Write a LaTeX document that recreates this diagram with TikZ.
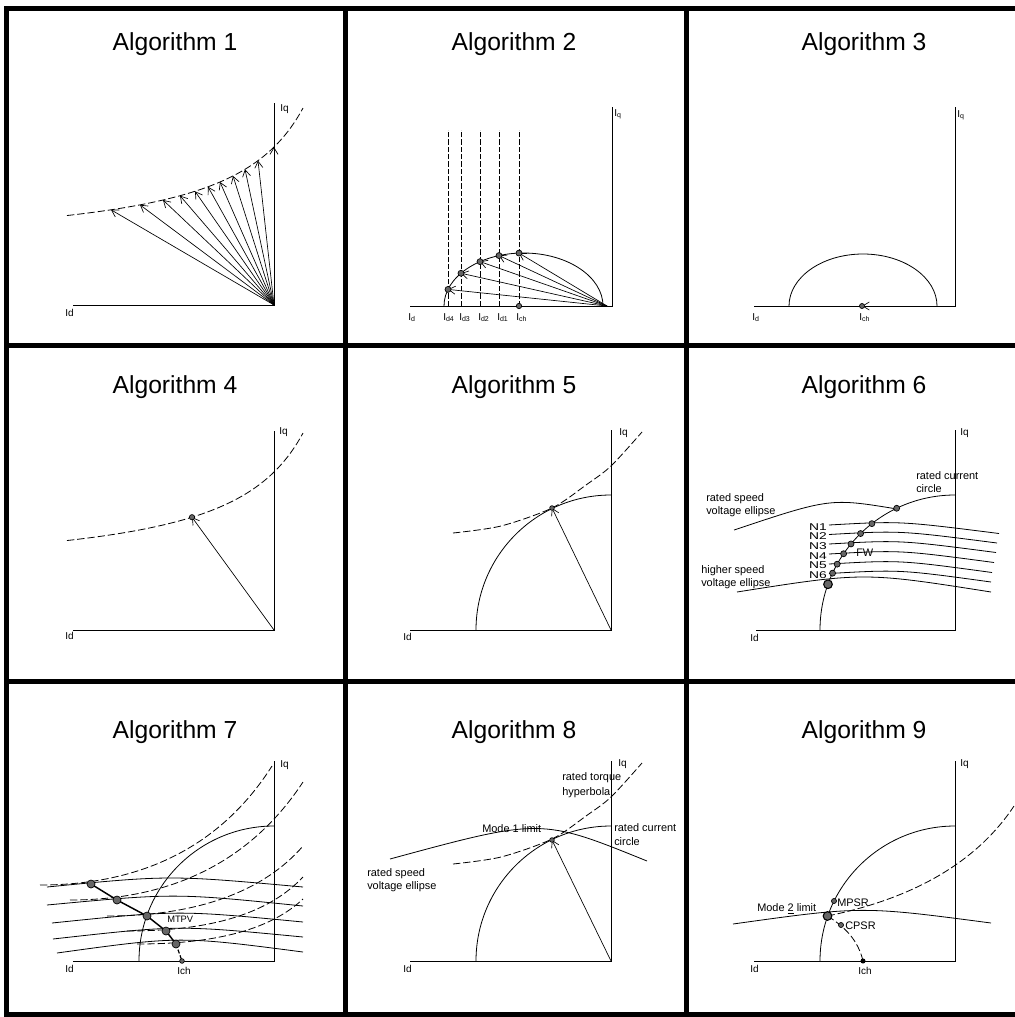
\documentclass[tikz,border=0pt]{standalone}
\usepackage{fontspec}
\setmainfont{Liberation Sans}
\usetikzlibrary{arrows.meta}
\begin{document}
\begin{tikzpicture}[x=0.75pt,y=-0.75pt,
 frameline/.style={line width=3.75pt, line cap=rect},
 ax/.style={line width=0.6pt},
 crv/.style={line width=0.6pt},
 dsh/.style={line width=0.6pt, dash pattern=on 5.5pt off 2.2pt},
 vdsh/.style={line width=0.5pt, dash pattern=on 4pt off 1.5pt},
 vec/.style={line width=0.5pt, -{Straight Barb[length=5pt,width=6pt]}},
 dotp/.style={circle, fill=black!60, draw=black, line width=0.5pt, inner sep=0pt, minimum size=4.5pt},
 bigdot/.style={dotp, minimum size=6.5pt, line width=0.8pt},
 ttl/.style={font=\fontsize{18.5}{20}\selectfont, anchor=base, inner sep=0pt},
 lbl/.style={font=\fontsize{8.2}{9}\selectfont, anchor=base west, inner sep=0pt},
 axl/.style={font=\fontsize{7.5}{8}\selectfont, anchor=base west, inner sep=0pt},
 nlbl/.style={font=\fontsize{7.4}{8}\selectfont, anchor=base east, inner sep=0pt},
]
\useasboundingbox (0,0) rectangle (1014,1017);
% ---------- frame ----------
\draw[frameline] (6,1014) -- (6,8.5) -- (1014,8.5);
\draw[frameline] (6,1014) -- (1014,1014);
\draw[frameline] (345.5,8.5) -- (345.5,1014);
\draw[frameline] (686.5,8.5) -- (686.5,1014);
\draw[frameline] (6,345) -- (1014,345);
\draw[frameline] (6,681) -- (1014,681);
% ---------- titles ----------
\node[ttl] (t1) at (175,50) {Algorithm 1};
\node[ttl] (t2) at (514,50) {Algorithm 2};
\node[ttl] (t3) at (864,50) {Algorithm 3};
\node[ttl] (t4) at (175,393) {Algorithm 4};
\node[ttl] (t5) at (514,393) {Algorithm 5};
\node[ttl] (t6) at (864,393) {Algorithm 6};
\node[ttl] (t7) at (175,738) {Algorithm 7};
\node[ttl] (t8) at (514,738) {Algorithm 8};
\node[ttl] (t9) at (864,738) {Algorithm 9};
% ---------- panel 1 ----------
\begin{scope}[shift={(274,305)}, yscale=-1]
 \draw[ax] (-201,0) -- (0,0) -- (0,202);
 \draw[dsh, domain=-207:29, samples=80] plot (\x, {54.4+10977/(106-\x)});
 \foreach \u in {-163,-134,-111,-94,-79,-66,-54,-41,-29,-16,0}
   \draw[vec] (0,0) -- (\u, {54.4+10977/(106-\u)});
\end{scope}
\node[axl] (id1) at (65,316) {Id};
\node[axl] (iq1) at (280,111) {Iq};
% ---------- panel 2 ----------
\begin{scope}[shift={(612,306)}, yscale=-1]
 \draw[ax] (-202,0) -- (0,0) -- (0,199);
 \draw[crv] (-168,0) arc[start angle=180, end angle=0, x radius=79.5, y radius=53];
 \foreach \u [count=\i] in {-164,-151,-132,-113,-93} {
   \draw[vdsh] (\u,0) -- (\u,176);
   \draw[vec] (-5,0) -- (\u,{53*sqrt(1-((\u+88.5)/79.5)^2)});
   \node[dotp] (p2\i) at (\u,{53*sqrt(1-((\u+88.5)/79.5)^2)}) {};
 }
 \node[dotp, minimum size=4pt] (ch2) at (-93,0) {};
\end{scope}
\node[axl] (id2) at (408,320) {I\textsubscript{d}};
\node[axl] (iq2) at (614,116) {I\textsubscript{q}};
\node[axl] (d4) at (443,320) {I\textsubscript{d4}};
\node[axl] (d3) at (459,320) {I\textsubscript{d3}};
\node[axl] (d2) at (478,320) {I\textsubscript{d2}};
\node[axl] (d1) at (497,320) {I\textsubscript{d1}};
\node[axl] (dch) at (516,320) {I\textsubscript{ch}};
% ---------- panel 3 ----------
\begin{scope}[shift={(955,306)}, yscale=-1]
 \draw[ax] (-201,0) -- (0,0) -- (0,199);
 \draw[crv] (-166,0) arc[start angle=180, end angle=0, x radius=74, y radius=52];
 \draw[vec] (0,0) -- (-93,0);
 \node[dotp, minimum size=3.8pt] (ch3) at (-93,0) {};
\end{scope}
\node[axl] (id3) at (752,320) {I\textsubscript{d}};
\node[axl] (iq3) at (957,117) {I\textsubscript{q}};
\node[axl] (ich3) at (859,320) {I\textsubscript{ch}};
% ---------- panel 4 ----------
\begin{scope}[shift={(274,630)}, yscale=-1]
 \draw[ax] (-201,0) -- (0,0) -- (0,199);
 \draw[dsh, domain=-207:29, samples=80] plot (\x, {54.4+10977/(106-\x)});
 \draw[vec] (0,0) -- (-82, {54.4+10977/188});
 \node[dotp, minimum size=4pt] (p4) at (-82, {54.4+10977/188}) {};
\end{scope}
\node[axl] (id4) at (65,639) {Id};
\node[axl] (iq4) at (279,434) {Iq};
% ---------- panel 5 ----------
\begin{scope}[shift={(611,630)}, yscale=-1]
 \draw[ax] (-201,0) -- (0,0) -- (0,200);
 \draw[crv] (-135,0) arc[start angle=180, end angle=90, radius=135];
 \draw[dsh] plot[smooth] coordinates {(-158,97) (-110,104) (-59,122) (-25,145) (0,164) (31,198)};
 \draw[vec] (0,0) -- (-59,122);
 \node[dotp, minimum size=3.5pt] (p5) at (-59,122) {};
\end{scope}
\node[axl] (id5) at (403,640) {Id};
\node[axl] (iq5) at (619,435) {Iq};
% ---------- panel 6 ----------
\begin{scope}[shift={(955,630)}, yscale=-1]
 \draw[ax] (-199,0) -- (0,0) -- (0,200);
 \draw[crv] (-135,0) arc[start angle=180, end angle=90, radius=135];
\end{scope}
\draw[crv] (734,530) .. controls (830,498) .. (897,509);
\draw[crv] (737,592) .. controls (864,572) .. (991,592);
\foreach \yy/\xe in {525/999, 534.5/997, 544/996, 554/994, 564/992, 573.5/991}
  \draw[crv] (829,\yy) .. controls (900,\yy-4) .. (\xe,\yy+8.5);
\begin{scope}[shift={(955,630)}, yscale=-1]
 \node[dotp] (r6) at (115.6:135) {};
 \foreach \a [count=\i] in {128,134.4,140.4,145.6,150.8,155.1}
   \node[dotp] (n6\i) at (\a:135) {};
 \node[bigdot] (h6) at (160.2:135) {};
\end{scope}
\node[lbl] (rc6a) at (916,479) {rated current};
\node[lbl] (rc6b) at (916,492) {circle};
\node[lbl] (rs6a) at (706,501) {rated speed};
\node[lbl] (rs6b) at (706,514) {voltage ellipse};
\node[lbl] (hs6a) at (701,573) {higher speed};
\node[lbl] (hs6b) at (701,586) {voltage ellipse};
\foreach \yy [count=\i] in {530,539.5,549,559,568.5,578}
  \node[nlbl] (nl\i) at (827,\yy) {\scalebox{1.4}[1]{N\i}};
\node[lbl] (fw6) at (856,556) {FW};
\node[axl] (id6) at (750,641) {Id};
\node[axl] (iq6) at (960,435) {Iq};
% ---------- panel 7 ----------
\begin{scope}[shift={(274,961)}, yscale=-1]
 \draw[ax] (-201,0) -- (0,0) -- (0,200);
 \draw[crv] (-135,0) arc[start angle=180, end angle=90, radius=135];
\end{scope}
\draw[dsh] (40,885) .. controls (150,885) and (225,840) .. (272,766);
\draw[dsh] (70,900) .. controls (180,900) and (255,855) .. (303,782);
\draw[dsh] (107,916) .. controls (200,916) and (265,890) .. (303,846);
\draw[dsh] (127,931) .. controls (215,931) and (270,912) .. (303,877);
\draw[dsh] (137,944) .. controls (220,944) and (272,928) .. (303,899);
\draw[crv] (47,887) .. controls (170,875) .. (303,887);
\draw[crv] (47,905) .. controls (175,893) .. (303,906);
\draw[crv] (52,923) .. controls (178,910) .. (303,922);
\draw[crv] (53,939) .. controls (178,925) .. (303,937);
\draw[crv] (57,953) .. controls (180,936) .. (303,952);
\coordinate (m1) at (91,884);
\coordinate (m2) at (117,900);
\coordinate (m3) at (147,916);
\coordinate (m4) at (166,931);
\coordinate (m5) at (176,944);
\coordinate (mch) at (182,961);
\draw[line width=1.1pt] (m1) -- (m2) -- (m3) -- (m4) -- (m5);
\draw[line width=0.9pt, dash pattern=on 3pt off 1.5pt] (m5) -- (mch);
\foreach \i in {1,...,5} \node[dotp, minimum size=6pt] (d7\i) at (m\i) {};
\node[dotp, minimum size=3.5pt] (ch7) at (mch) {};
\node[lbl, font=\fontsize{7}{8}\selectfont] (mtpv) at (167,922) {MTPV};
\node[axl] (ich7) at (177,974) {Ich};
\node[axl] (id7) at (65,972) {Id};
\node[axl] (iq7) at (280,767) {Iq};
% ---------- panel 8 ----------
\begin{scope}[shift={(611,961)}, yscale=-1]
 \draw[ax] (-201,0) -- (0,0) -- (0,200);
 \draw[crv] (-135,0) arc[start angle=180, end angle=90, radius=135];
 \draw[dsh] plot[smooth] coordinates {(-158,97) (-110,104) (-59,122) (-25,145) (0,164) (31,198)};
 \draw[vec] (0,0) -- (-59,121);
 \node[dotp, minimum size=3.5pt] (p8) at (-59,121) {};
\end{scope}
\draw[crv] (390,859) .. controls (541,818) .. (647,861);
\node[lbl] (rt8a) at (562,780) {rated torque};
\node[lbl] (rt8b) at (562,795) {hyperbola};
\node[lbl] (m8) at (482,832) {Mode 1 limit};
\node[lbl] (rc8a) at (614,831) {rated current};
\node[lbl] (rc8b) at (614,845) {circle};
\node[lbl] (rs8a) at (367,876) {rated speed};
\node[lbl] (rs8b) at (367,889) {voltage ellipse};
\node[axl] (id8) at (403,972) {Id};
\node[axl] (iq8) at (618,766) {Iq};
% ---------- panel 9 ----------
\begin{scope}[shift={(955,961)}, yscale=-1]
 \draw[ax] (-201,0) -- (0,0) -- (0,200);
 \draw[crv] (-135,0) arc[start angle=180, end angle=90, radius=135];
\end{scope}
\draw[crv] (733,924) .. controls (862,906) .. (991,923);
\draw[dsh] (827.5,916) .. controls (880,905) and (965,880) .. (1014,806);
\draw[dsh] (827.5,916) .. controls (845,927) and (858,940) .. (863,961);
\node[dotp, minimum size=3.8pt] (mpsr) at (834,901) {};
\node[dotp, minimum size=3.8pt] (cpsr) at (841,925) {};
\node[bigdot] (big9) at (827.5,916) {};
\node[circle, fill=black, inner sep=0pt, minimum size=3.8pt] (ch9) at (863,961) {};
\node[lbl] (m9) at (757,911) {Mode \underline{2} limit};
\node[lbl] (mp9) at (837,906) {MPSR};
\node[lbl] (cp9) at (845,929) {CPSR};
\node[axl] (ich9) at (858,974) {Ich};
\node[axl] (id9) at (750,972) {Id};
\node[axl] (iq9) at (960,766) {Iq};
\end{tikzpicture}
\end{document}
